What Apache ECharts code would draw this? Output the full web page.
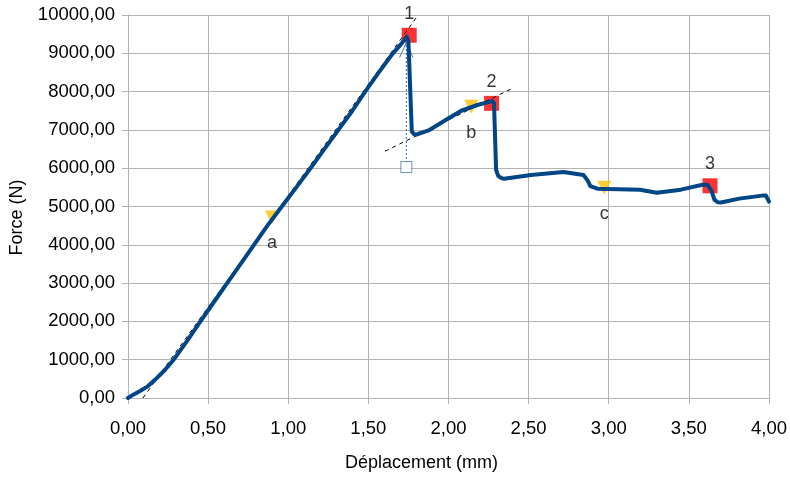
<!DOCTYPE html>
<html>
<head>
<meta charset="utf-8">
<script src="https://cdn.jsdelivr.net/npm/echarts@6/dist/echarts.min.js"></script>
<style>html,body{margin:0;padding:0;background:#fff}#c{width:790px;height:477px}</style>
</head>
<body>
<div id="c"></div>
<script>
// Main curve: displacement (mm) and force (N)
var dispMm = [0, 0.03, 0.07, 0.118, 0.17, 0.23, 0.285, 0.37, 0.452, 0.535, 0.619, 0.70, 0.786, 0.87, 0.960, 1.05, 1.139, 1.225, 1.313, 1.40, 1.480, 1.565, 1.653, 1.700, 1.740, 1.750, 1.771, 1.785, 1.80, 1.876, 1.98, 2.08, 2.18, 2.254, 2.272, 2.284, 2.297, 2.310, 2.328, 2.347, 2.514, 2.718, 2.842, 2.868, 2.885, 2.929, 3.195, 3.30, 3.45, 3.585, 3.616, 3.641, 3.659, 3.68, 3.70, 3.814, 3.957, 3.981, 4.0];
var forceN = [0, 80, 170, 290, 480, 730, 1000, 1500, 2000, 2500, 3000, 3480, 4000, 4500, 5000, 5500, 6000, 6500, 7000, 7500, 8000, 8500, 9000, 9220, 9433, 9300, 6960, 6890, 6880, 6985, 7250, 7500, 7650, 7732, 7760, 7700, 5960, 5800, 5747, 5722, 5825, 5902, 5825, 5680, 5530, 5464, 5438, 5361, 5440, 5567, 5567, 5412, 5180, 5110, 5105, 5206, 5284, 5284, 5129];

// Tangent lines (dashed)
var tangent1X = [0.093, 1.802];
var tangent1Y = [0, 9948];
var tangent2X = [1.604, 2.402];
var tangent2Y = [6443, 8093];

// Vertical dotted projection with arrow
var projX = [1.737, 1.737];
var projY = [6031, 9278];
var arrowX = [1.695, 1.737, 1.778];
var arrowY = [8892, 9278, 8892];
var projMarkX = [1.737];
var projMarkY = [6031];

// Red square points
var peakX = [1.755, 2.269, 3.632];
var peakY = [9472, 7693, 5541];
var peakLabels = ['1', '2', '3'];

// Yellow triangle points
var triX = [0.898, 2.142, 2.972];
var triY = [4716, 7603, 5490];
var triLabels = ['a', 'b', 'c'];

// Axis ticks
var xTicks = [0, 0.5, 1, 1.5, 2, 2.5, 3, 3.5, 4];
var yTicks = [0, 1000, 2000, 3000, 4000, 5000, 6000, 7000, 8000, 9000, 10000];

function zip(a, b) { return a.map(function (v, i) { return [v, b[i]]; }); }
function fmt(v) { return v.toFixed(2).replace('.', ','); }

var FONT = '"Liberation Sans", Arial, sans-serif';
var chart = echarts.init(document.getElementById('c'), null, {renderer: 'canvas'});
chart.setOption({
  animation: false,
  backgroundColor: '#ffffff',
  grid: {left: 124, right: 20, top: 15, bottom: 74, containLabel: false},
  xAxis: {
    type: 'value', min: xTicks[0], max: xTicks[xTicks.length - 1], interval: 0.5,
    name: 'Déplacement (mm)', nameLocation: 'middle', nameGap: 56,
    nameTextStyle: {fontFamily: FONT, fontSize: 18, color: '#000', padding: [0, 54, 0, 0]},
    axisLine: {show: true, lineStyle: {color: '#b3b3b3', width: 1}},
    axisTick: {show: true, inside: false, length: 6, lineStyle: {color: '#b3b3b3'}},
    axisLabel: {formatter: fmt, fontFamily: FONT, fontSize: 18.5, color: '#000', margin: 21},
    splitLine: {show: true, lineStyle: {color: '#b3b3b3', width: 1}}
  },
  yAxis: {
    type: 'value', min: yTicks[0], max: yTicks[yTicks.length - 1], interval: 1000,
    name: 'Force (N)', nameLocation: 'middle', nameGap: 102, nameRotate: 90,
    nameTextStyle: {fontFamily: FONT, fontSize: 18, color: '#000', padding: [0, 22, 0, 0]},
    axisLine: {show: true, lineStyle: {color: '#b3b3b3', width: 1}},
    axisTick: {show: true, inside: false, length: 6, lineStyle: {color: '#b3b3b3'}},
    axisLabel: {formatter: fmt, fontFamily: FONT, fontSize: 18.5, color: '#000', margin: 13},
    splitLine: {show: true, lineStyle: {color: '#b3b3b3', width: 1}}
  },
  series: [
    {
      type: 'scatter', z: 2, data: zip(peakX, peakY), symbol: 'rect', symbolSize: 15,
      itemStyle: {color: '#ff0000'},
      label: {show: true, position: 'top', distance: 5, fontFamily: FONT, fontSize: 18, color: '#000',
        formatter: function (p) { return peakLabels[p.dataIndex]; }}
    },
    {
      type: 'scatter', z: 2, data: zip(triX, triY), symbol: 'triangle', symbolRotate: 180, symbolSize: [14, 14],
      itemStyle: {color: '#ffc000'},
      label: {show: true, position: 'bottom', distance: 10, fontFamily: FONT, fontSize: 18, color: '#000',
        formatter: function (p) { return triLabels[p.dataIndex]; }}
    },
    {
      type: 'line', z: 3, data: zip(projX, projY), showSymbol: false, symbol: 'none',
      lineStyle: {color: '#4a75b5', width: 1.2, type: [2, 2]}
    },
    {
      type: 'line', z: 3, data: zip(arrowX, arrowY), showSymbol: false, symbol: 'none',
      lineStyle: {color: '#4a75b5', width: 1}
    },
    {
      type: 'scatter', z: 3, data: zip(projMarkX, projMarkY), symbol: 'rect', symbolSize: 11,
      itemStyle: {color: '#ffffff', borderColor: '#4a75b5', borderWidth: 1}
    },
    {
      type: 'line', z: 3, data: zip(tangent1X, tangent1Y), showSymbol: false, symbol: 'none',
      lineStyle: {color: '#000', width: 1, type: [4, 4]}
    },
    {
      type: 'line', z: 3, data: zip(tangent2X, tangent2Y), showSymbol: false, symbol: 'none',
      lineStyle: {color: '#000', width: 1, type: [4, 4]}
    },
    {
      type: 'line', z: 4, data: zip(dispMm, forceN), showSymbol: false, symbol: 'none',
      lineStyle: {color: '#004586', width: 4, join: 'round', cap: 'round'}
    }
  ]
});
</script>
</body>
</html>
